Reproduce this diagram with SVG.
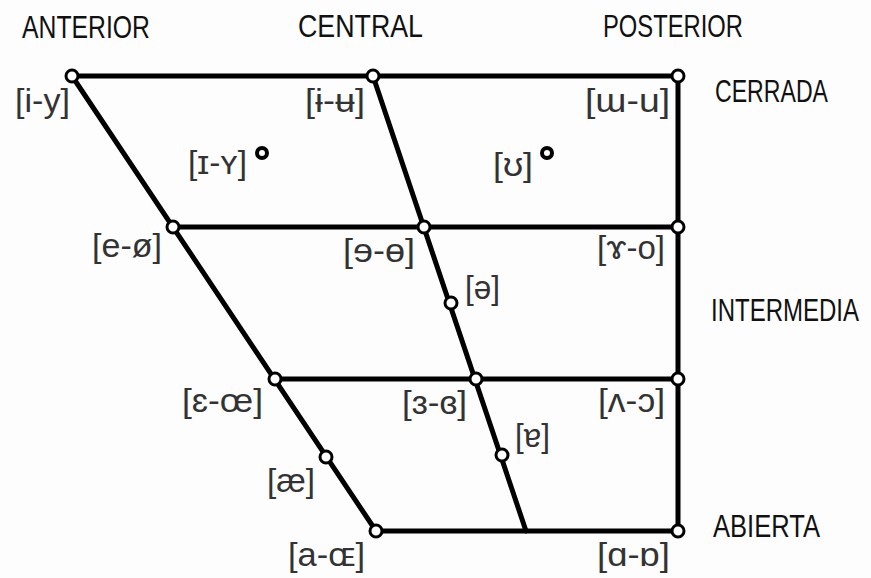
<svg xmlns="http://www.w3.org/2000/svg" width="871" height="578" viewBox="0 0 871 578">
<style>
.bg{fill:#fdfdfd}
.ln{stroke:#000;stroke-width:5;fill:none;stroke-linecap:round}
.nd{fill:#fff;stroke:#000;stroke-width:3}
.dot{fill:none;stroke:#000;stroke-width:4}
.hd{font-family:"Liberation Sans",sans-serif;font-size:31px;fill:#111}
.ph{font-family:"Liberation Sans","DejaVu Sans",sans-serif;font-size:33px;fill:#333}
</style>
<rect class="bg" width="871" height="578"/>
<g id="headers">
<text class="hd" x="22" y="38" textLength="128" lengthAdjust="spacingAndGlyphs">ANTERIOR</text>
<text class="hd" x="298" y="37" textLength="125" lengthAdjust="spacingAndGlyphs">CENTRAL</text>
<text class="hd" x="603" y="37" textLength="140" lengthAdjust="spacingAndGlyphs">POSTERIOR</text>
<text class="hd" x="715" y="102" textLength="113" lengthAdjust="spacingAndGlyphs">CERRADA</text>
<text class="hd" transform="translate(711 321) scale(1 1.24)" x="0" y="0" style="font-size:25px" textLength="148" lengthAdjust="spacingAndGlyphs">INTERMEDIA</text>
<text class="hd" x="713" y="537" textLength="107" lengthAdjust="spacingAndGlyphs">ABIERTA</text>
</g>
<g id="connectors">
<line class="ln" x1="72" y1="76" x2="678" y2="76"/>
<line class="ln" x1="173" y1="227" x2="678" y2="227"/>
<line class="ln" x1="275" y1="379" x2="678" y2="379"/>
<line class="ln" x1="376" y1="531" x2="678" y2="531"/>
<line class="ln" x1="678" y1="76" x2="678" y2="531"/>
<line class="ln" x1="72" y1="76" x2="376" y2="531"/>
<line class="ln" x1="373" y1="76" x2="526" y2="531"/>
</g>
<g id="n-i-y"><circle class="nd" cx="72" cy="76" r="6"/><text class="ph" x="15" y="112" textLength="55" lengthAdjust="spacingAndGlyphs">[i-y]</text></g>
<g id="n-ɨ-ʉ"><circle class="nd" cx="373" cy="76" r="6"/><text class="ph" x="305" y="112" textLength="60" lengthAdjust="spacingAndGlyphs">[ɨ-ʉ]</text></g>
<g id="n-ɯ-u"><circle class="nd" cx="678" cy="76" r="6"/><text class="ph" x="585" y="112" textLength="85" lengthAdjust="spacingAndGlyphs">[ɯ-u]</text></g>
<g id="n-ɪ-ʏ"><circle class="dot" cx="262" cy="153" r="5"/><text class="ph" x="188" y="174" textLength="59" lengthAdjust="spacingAndGlyphs">[ɪ-ʏ]</text></g>
<g id="n-ʊ"><circle class="dot" cx="547" cy="153" r="5"/><text class="ph" x="493" y="176" textLength="40" lengthAdjust="spacingAndGlyphs">[ʊ]</text></g>
<g id="n-e-ø"><circle class="nd" cx="173" cy="227" r="6"/><text class="ph" x="92" y="257" textLength="70" lengthAdjust="spacingAndGlyphs">[e-ø]</text></g>
<g id="n-ɘ-ɵ"><circle class="nd" cx="424" cy="227" r="6"/><text class="ph" x="343" y="262" textLength="72" lengthAdjust="spacingAndGlyphs">[ɘ-ɵ]</text></g>
<g id="n-ɤ-o"><circle class="nd" cx="678" cy="227" r="6"/><text class="ph" x="597" y="259" textLength="68" lengthAdjust="spacingAndGlyphs">[ɤ-o]</text></g>
<g id="n-ə"><circle class="nd" cx="451" cy="303" r="6"/><text class="ph" x="465" y="299" textLength="35" lengthAdjust="spacingAndGlyphs">[ə]</text></g>
<g id="n-ɛ-œ"><circle class="nd" cx="275" cy="379" r="6"/><text class="ph" x="182" y="412" textLength="81" lengthAdjust="spacingAndGlyphs">[ɛ-œ]</text></g>
<g id="n-ɜ-ɞ"><circle class="nd" cx="476" cy="379" r="6"/><text class="ph" x="402" y="414" textLength="65" lengthAdjust="spacingAndGlyphs">[ɜ-ɞ]</text></g>
<g id="n-ʌ-ɔ"><circle class="nd" cx="678" cy="379" r="6"/><text class="ph" x="598" y="412" textLength="67" lengthAdjust="spacingAndGlyphs">[ʌ-ɔ]</text></g>
<g id="n-ɐ"><circle class="nd" cx="502" cy="455" r="6"/><text class="ph" x="515" y="447" textLength="35" lengthAdjust="spacingAndGlyphs">[ɐ]</text></g>
<g id="n-æ"><circle class="nd" cx="326" cy="457" r="6"/><text class="ph" x="267" y="492" textLength="48" lengthAdjust="spacingAndGlyphs">[æ]</text></g>
<g id="n-a-ɶ"><circle class="nd" cx="376" cy="531" r="6"/><text class="ph" x="288" y="566" textLength="77" lengthAdjust="spacingAndGlyphs">[a-ɶ]</text></g>
<g id="n-ɑ-ɒ"><circle class="nd" cx="678" cy="531" r="6"/><text class="ph" x="597" y="566" textLength="73" lengthAdjust="spacingAndGlyphs">[ɑ-ɒ]</text></g>
</svg>
